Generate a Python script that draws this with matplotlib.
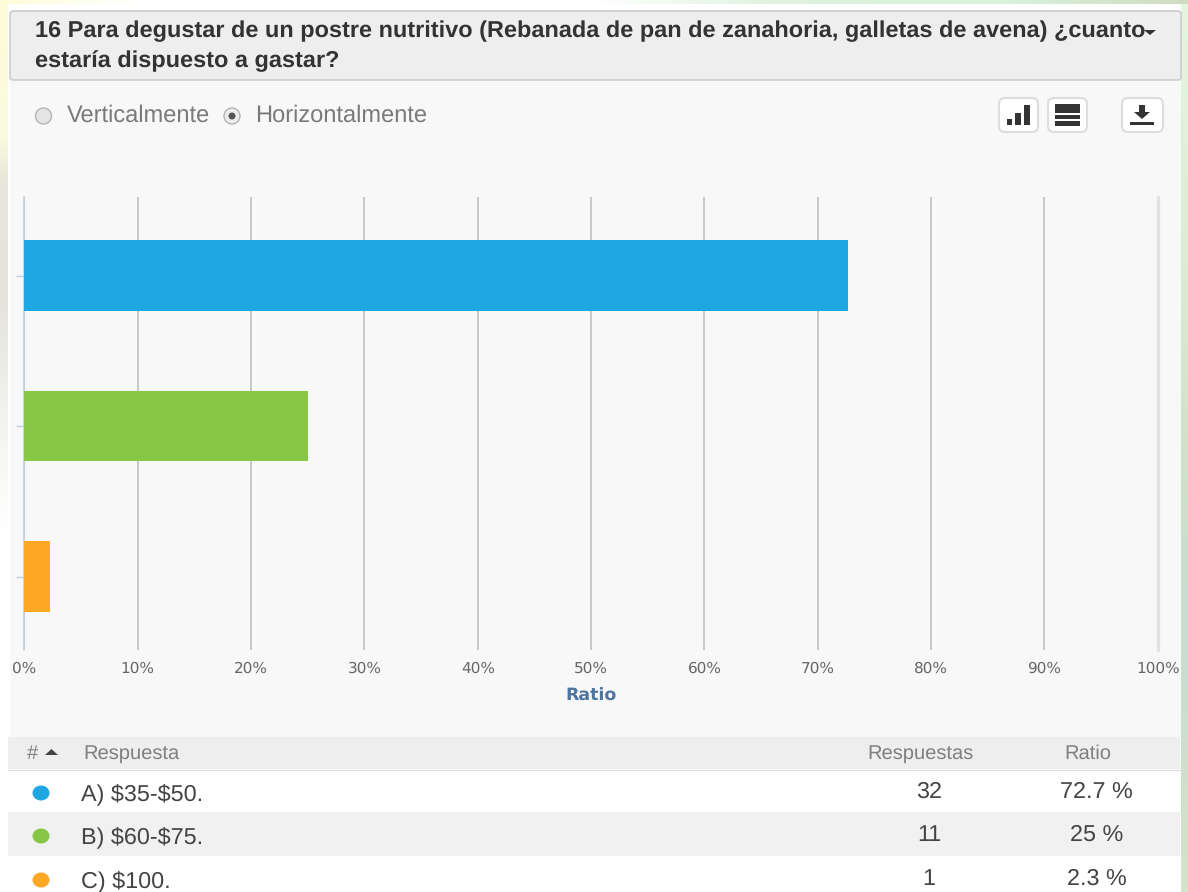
import matplotlib
matplotlib.use('Agg')
import matplotlib.pyplot as plt
import numpy as np
from matplotlib.colors import LinearSegmentedColormap
from matplotlib.patches import Rectangle, FancyBboxPatch, Circle, Ellipse, Polygon

WIDTH = 1188
HEIGHT = 892

title_lines = ['16 Para degustar de un postre nutritivo (Rebanada de pan de zanahoria, galletas de avena) ¿cuanto',
               'estaría dispuesto a gastar?']
answers = ['A) \\$35-\\$50.', 'B) \\$60-\\$75.', 'C) \\$100.']
counts = [32, 11, 1]
ratios = [72.7, 25, 2.3]
ratio_labels = ['72.7 %', '25 %', '2.3 %']
colors = ['#1ea7e1', '#88c646', '#ffa826']
xticks = [0, 10, 20, 30, 40, 50, 60, 70, 80, 90, 100]

plt.rcParams['font.family'] = ['Liberation Sans', 'DejaVu Sans']
plt.rcParams['text.hinting'] = 'none'

fig = plt.figure(figsize=(WIDTH / 100, HEIGHT / 100), dpi=100, facecolor='white')

# page furniture in pixel coordinates
bg = fig.add_axes([0, 0, 1, 1], zorder=0)
bg.set_xlim(0, WIDTH)
bg.set_ylim(HEIGHT, 0)
bg.axis('off')


def rect(x0, y0, x1, y1, color, z=1):
    bg.add_patch(Rectangle((x0, y0), x1 - x0, y1 - y0, fc=color, ec='none', zorder=z))


def strip(x0, y0, x1, y1, stops, vertical=True):
    # soft page background behind the screenshot
    cmap = LinearSegmentedColormap.from_list('strip', stops)
    ramp = np.linspace(0, 1, 256)
    ramp = ramp[:, None] if vertical else ramp[None, :]
    bg.imshow(ramp, cmap=cmap, extent=(x0, x1, y1, y0), aspect='auto', zorder=0.5)


strip(0, 0, WIDTH, 4, [(0, '#fdfdd8'), (0.12, '#ffffff'), (0.5, '#ffffff'), (0.65, '#dff3df'),
                       (0.85, '#d8f2dc'), (1, '#d0dcc0')], vertical=False)
strip(0, 4, 8, HEIGHT, [(0, '#fdfdd8'), (0.15, '#fafae0'), (0.2, '#e6e6da'), (0.33, '#e4e4dc'),
                        (0.5, '#f6f6f4'), (0.6, '#ffffff'), (1, '#ffffff')])
strip(1181, 4, WIDTH, HEIGHT, [(0, '#e4f6e0'), (0.25, '#dcefd4'), (0.5, '#d0e2c8'),
                               (0.7, '#c8dcd0'), (1, '#d4e4c8')])
bg.set_xlim(0, WIDTH)
bg.set_ylim(HEIGHT, 0)

rect(10, 81, 1181, 737, '#f8f8f8')
bg.add_patch(FancyBboxPatch((10, 11), 1171, 69, boxstyle='round,pad=0,rounding_size=3',
                            fc='#eeeeee', ec='#cccccc', lw=1.2, zorder=2))

bg.text(35, 31, title_lines[0], fontsize=16.9, fontweight='bold', color='#333333', va='center', zorder=3)
bg.text(35, 61, title_lines[1], fontsize=16.9, fontweight='bold', color='#333333', va='center', zorder=3)
bg.add_patch(Polygon([(1144, 30), (1156, 30), (1150, 35)], fc='#333333', ec='none', zorder=3))

# radio buttons
bg.add_patch(Circle((43.5, 116), 8, fc='#e4e4e4', ec='#b5b5b5', lw=1, zorder=3))
bg.add_patch(Circle((232, 116), 8, fc='#ececec', ec='#b5b5b5', lw=1, zorder=3))
bg.add_patch(Circle((232, 116), 3.5, fc='#555555', ec='none', zorder=4))
bg.text(67, 116, 'Verticalmente', fontsize=17, color='#7a7a7a', va='center', zorder=3)
bg.text(255.5, 116, 'Horizontalmente', fontsize=17, color='#7a7a7a', va='center', zorder=3)

# toolbar buttons
for x0, x1 in [(999, 1038), (1048, 1087), (1122, 1163)]:
    bg.add_patch(FancyBboxPatch((x0, 98), x1 - x0, 34, boxstyle='round,pad=0,rounding_size=6',
                                fc='#ffffff', ec='#dddddd', lw=1.5, zorder=3))
rect(1007, 119, 1012, 125, '#333333', 4)
rect(1015, 113, 1021, 125, '#333333', 4)
rect(1024, 105, 1030, 125, '#333333', 4)
rect(1055, 104, 1080, 113, '#333333', 4)
rect(1055, 115, 1080, 119, '#333333', 4)
rect(1055, 121, 1080, 126, '#333333', 4)
rect(1139, 105, 1145, 112, '#333333', 4)
bg.add_patch(Polygon([(1134, 112), (1150, 112), (1142, 119)], fc='#333333', ec='none', zorder=4))
rect(1130, 122, 1154, 125, '#333333', 4)

# table
rect(8, 737, 1180, 769, '#eeeeee')
rect(8, 769, 1180, 812, '#ffffff')
rect(8, 812, 1180, 856, '#f1f1f1')
rect(8, 856, 1181, HEIGHT, '#ffffff')
bg.plot([8, 1180], [769.5, 769.5], color='#dddddd', lw=1, zorder=2)

head_color = '#808080'
bg.text(27, 754, '#', fontsize=14.5, color=head_color, va='center', zorder=3)
bg.add_patch(Polygon([(45, 755), (58, 755), (51.5, 749)], fc='#444444', ec='none', zorder=3))
bg.text(83, 754, 'Respuesta', fontsize=14.5, color=head_color, va='center', zorder=3)
bg.text(920, 754, 'Respuestas', fontsize=14.5, color=head_color, va='center', ha='center', zorder=3)
bg.text(1088, 754, 'Ratio', fontsize=14.5, color=head_color, va='center', ha='center', zorder=3)

row_y = [793, 836, 880]
for i, answer in enumerate(answers):
    bg.add_patch(Ellipse((41, row_y[i]), 17, 15, fc=colors[i], ec='none', zorder=3))
    bg.text(81, row_y[i] + 1, answer, fontsize=16.8, color='#444444', va='center', zorder=3)
    bg.text(929, row_y[i] - 1, str(counts[i]), fontsize=16.8, color='#444444', va='center', ha='center', zorder=3)
    bg.text(1096.5, row_y[i] - 1, ratio_labels[i], fontsize=16.8, color='#444444', va='center', ha='center', zorder=3)

# chart
left, right, top, bottom = 24.3, 1157.8, 197, 650
ax = fig.add_axes([left / WIDTH, 1 - bottom / HEIGHT, (right - left) / WIDTH, (bottom - top) / HEIGHT], zorder=1)
ax.patch.set_alpha(0)
ax.barh(range(len(ratios)), ratios, height=0.47, color=colors, zorder=3)
ax.set_xlim(0, 100)
ax.set_ylim(2.488, -0.522)
ax.set_xticks(xticks)
ax.set_xticklabels([f'{t}%' for t in xticks], family='DejaVu Sans', fontsize=11, color='#666666')
ax.set_yticks(range(len(ratios)))
ax.set_yticklabels([])
ax.tick_params(axis='x', length=0, pad=8)
ax.tick_params(axis='y', length=6, width=1, color='#c0d0e0', direction='out')
ax.grid(axis='x', color='#c8c8c8', lw=1.4, zorder=1)
last_line = ax.get_xgridlines()[-1]
last_line.set_color('#e2e2e2')
last_line.set_linewidth(2.4)
last_line.set_clip_on(False)
for side in ['top', 'right', 'bottom']:
    ax.spines[side].set_visible(False)
ax.spines['left'].set_color('#c0d0e0')
ax.spines['left'].set_linewidth(1.2)
ax.set_xlabel('Ratio', family='DejaVu Sans', fontsize=12.5, fontweight='bold', color='#4d759e', labelpad=9)

plt.savefig('out.png', dpi=100, facecolor=fig.get_facecolor())
